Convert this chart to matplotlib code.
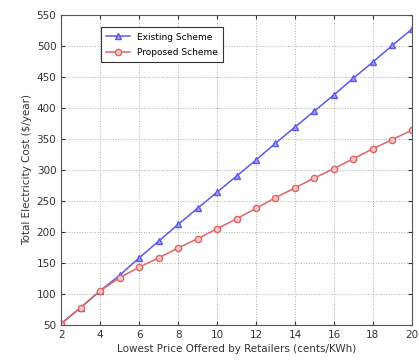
import matplotlib
matplotlib.use('Agg')
import matplotlib.pyplot as plt
import numpy as np

# --- Data ---
price = [2, 3, 4, 5, 6, 7, 8, 9, 10, 11, 12, 13, 14, 15, 16, 17, 18, 19, 20]
existing = [52, 78, 105, 130, 158, 185, 212, 238, 264, 290, 316, 343, 369, 395, 421, 448, 474, 501, 527]
proposed = [52, 78, 105, 126, 143, 158, 174, 189, 205, 221, 238, 255, 271, 287, 302, 318, 334, 349, 364]

x_ticks = [2, 4, 6, 8, 10, 12, 14, 16, 18, 20]
y_ticks = [50, 100, 150, 200, 250, 300, 350, 400, 450, 500, 550]

# --- Plotting ---
fig = plt.figure(figsize=(4.19, 3.63), dpi=100)
ax = fig.add_axes([0.146, 0.105, 0.837, 0.854])

ax.plot(price, existing, color='#5a5aee', linewidth=1.1, marker='^', markersize=4.5,
        markerfacecolor='#a0a0f4', markeredgecolor='#5a5aee', label='Existing Scheme')
ax.plot(price, proposed, color='#e06464', linewidth=1.1, marker='o', markersize=4.5,
        markerfacecolor='#f2c8c8', markeredgecolor='#e06464', label='Proposed Scheme')

ax.set_xlim(2, 20)
ax.set_ylim(50, 550)
ax.set_xticks(x_ticks)
ax.set_yticks(y_ticks)
ax.tick_params(direction='in', top=True, right=True, labelsize=7.5, length=3, colors='#333333')

ax.grid(True, linestyle=':', color='#b0b0b0', linewidth=0.7)
for s in ax.spines.values():
    s.set_color('#555555')
    s.set_linewidth(0.8)

ax.set_xlabel('Lowest Price Offered by Retailers (cents/KWh)', fontsize=7.5, color='#333333', labelpad=3)
ax.set_ylabel('Total Electricity Cost ($/year)', fontsize=7.5, color='#333333', labelpad=3)

leg = ax.legend(loc='upper left', bbox_to_anchor=(0.1, 0.975), fontsize=6.5, frameon=True,
                fancybox=False, edgecolor='#333333', handlelength=2.6, borderpad=0.6,
                labelspacing=0.7, framealpha=1)
leg.get_frame().set_linewidth(0.8)

plt.savefig('out.png', dpi=100, facecolor='white')
